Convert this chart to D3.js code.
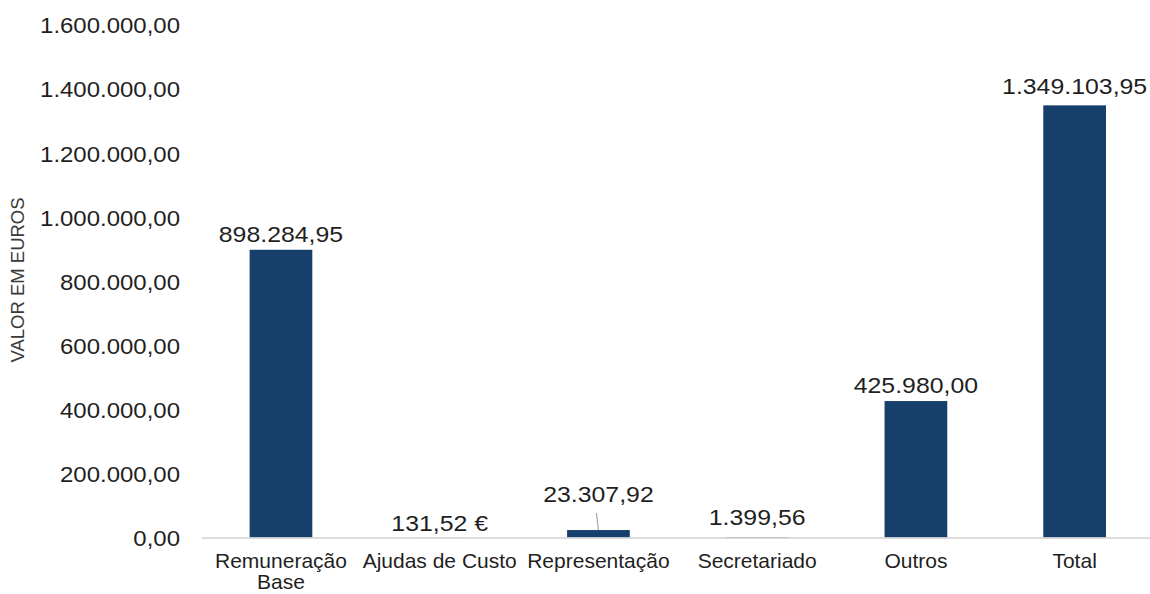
<!DOCTYPE html>
<html>
<head>
<meta charset="utf-8">
<script src="https://cdn.jsdelivr.net/npm/d3@7"></script>
<style>
  html, body { margin: 0; padding: 0; background: #fff; }
  svg { display: block; font-family: "Liberation Sans", Arial, sans-serif; }
</style>
</head>
<body>
<svg id="chart" width="1150" height="594"></svg>
<script>
// Remuneration breakdown, values in euros
const categories = ["Remuneração Base", "Ajudas de Custo", "Representação", "Secretariado", "Outros", "Total"];
const categoryLines = [["Remuneração", "Base"], ["Ajudas de Custo"], ["Representação"], ["Secretariado"], ["Outros"], ["Total"]];
const values = [898284.95, 131.52, 23307.92, 1399.56, 425980.00, 1349103.95];
const labelSuffix = ["", " €", "", "", "", ""];
const yTicks = [0, 200000, 400000, 600000, 800000, 1000000, 1200000, 1400000, 1600000];
const yTitle = "VALOR EM EUROS";

const pt = d3.formatLocale({ decimal: ",", thousands: ".", grouping: [3], currency: ["", " €"] });
const fmt = pt.format(",.2f");

const svg = d3.select("#chart");
const W = 1150;

const x = d3.scaleBand()
  .domain(categories)
  .range([202, 1153.6])
  .paddingInner(0.605)
  .paddingOuter(0.3);

const y = d3.scaleLinear()
  .domain([0, 1600000])
  .range([537.5, 25]);

const textColor = "#1f1f1f";
const barColor = "#173f6b";
const cx = d => x(d) + x.bandwidth() / 2;

// Y axis tick labels (no axis line, no tick marks)
const yAxis = d3.axisLeft(y).tickValues(yTicks).tickFormat(fmt).tickSize(0).tickPadding(0);
const gy = svg.append("g").attr("transform", "translate(180,0)").call(yAxis);
gy.select(".domain").remove();
gy.selectAll("text")
  .attr("font-size", 22)
  .attr("fill", textColor)
  .attr("font-family", "Liberation Sans, Arial, sans-serif")
  .attr("dy", "0.36em")
  .attr("transform", "scale(1.09,1)");

// Y axis title
svg.append("text")
  .attr("transform", `translate(24,${(192 + 368) / 2}) rotate(-90)`)
  .attr("text-anchor", "middle")
  .attr("font-size", 18.5)
  .attr("fill", "#3a3a3a")
  .text(yTitle);

// Bars
svg.append("g").selectAll("rect")
  .data(categories)
  .join("rect")
  .attr("x", d => x(d))
  .attr("width", x.bandwidth())
  .attr("y", (d, i) => y(values[i]))
  .attr("height", (d, i) => y(0) - y(values[i]))
  .attr("fill", barColor);

// Baseline
svg.append("line")
  .attr("x1", 202).attr("x2", W)
  .attr("y1", y(0) + 0.5).attr("y2", y(0) + 0.5)
  .attr("stroke", "#d0d0d0")
  .attr("stroke-width", 1.5);

// X axis category labels
const gx = svg.append("g").selectAll("text")
  .data(categories)
  .join("text")
  .attr("text-anchor", "middle")
  .attr("font-size", 21)
  .attr("fill", textColor)
  .attr("x", cx)
  .attr("y", 568);
gx.each(function (d, i) {
  const t = d3.select(this);
  categoryLines[i].forEach((line, k) => {
    t.append("tspan")
      .attr("x", cx(d))
      .attr("dy", k === 0 ? 0 : 21)
      .text(line);
  });
});

// Data labels; the small "Representação" label sits higher with a leader line
const labelLift = [8, 6, 28, 12, 8, 11];
svg.append("g").selectAll("g")
  .data(categories)
  .join("g")
  .attr("transform", (d, i) => `translate(${cx(d)},${y(values[i]) - labelLift[i]})`)
  .append("text")
  .attr("text-anchor", "middle")
  .attr("font-size", 22)
  .attr("fill", textColor)
  .attr("transform", "scale(1.13,1)")
  .text((d, i) => fmt(values[i]) + labelSuffix[i]);

// Leader line for the "Representação" label
const ri = 2;
const rc = cx(categories[ri]);
svg.append("line")
  .attr("x1", rc - 2).attr("y1", y(values[ri]) - 17)
  .attr("x2", rc).attr("y2", y(values[ri]))
  .attr("stroke", "#a6a6a6")
  .attr("stroke-width", 1.2);
</script>
</body>
</html>
